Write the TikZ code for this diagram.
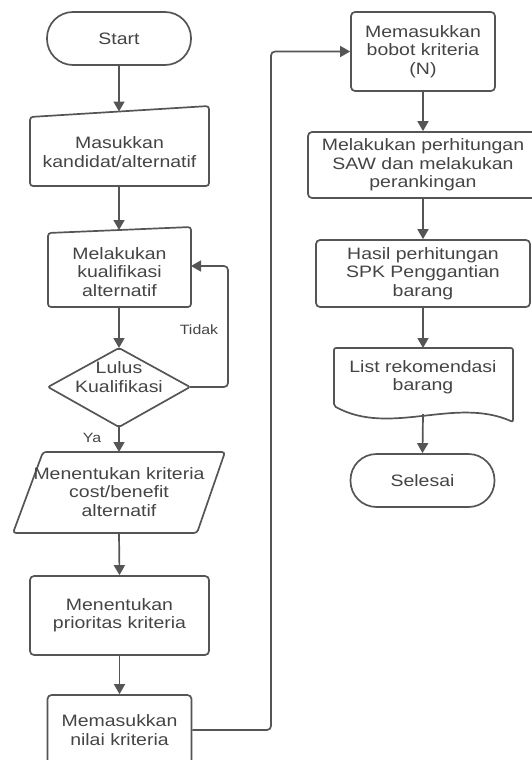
\documentclass[tikz,border=0pt]{standalone}
\usepackage{fontspec}
\setmainfont{Liberation Sans}[FakeStretch=1.18]
\usetikzlibrary{arrows.meta}
\definecolor{ln}{HTML}{555555}
\definecolor{tx}{HTML}{444444}
\begin{document}
\begin{tikzpicture}[x=1pt,y=-1pt,
  lbl/.style={align=center,text=tx,font=\fontsize{16.5}{18.3}\selectfont,inner sep=0pt},
  sml/.style={text=tx,font=\fontsize{13.5}{15}\selectfont,inner sep=0pt},
  shp/.style={draw=ln,line width=1.7pt,rounded corners=3pt},
  boxn/.style={lbl,draw=ln,line width=1.7pt,rounded corners=4pt},
  term/.style={lbl,draw=ln,line width=1.7pt,rounded corners=26pt,minimum width=144pt,minimum height=53pt},
  arr/.style={draw=ln,line width=1.7pt,-{Triangle[length=10pt,width=11pt,fill=ln]}},
  elbow/.style={arr,rounded corners=4pt}]
\useasboundingbox (0,0) rectangle (531,760);

% ---------- left column ----------
\node[term] (start) at (119,38.5) {Start};

\draw[shp] (30,117) -- (209,106) -- (209,186) -- (30,186) -- cycle;
\node[lbl] (inp) at (119.5,152) {Masukkan\\kandidat/alternatif};
\coordinate (inpT) at (119,111.5);
\coordinate (inpB) at (119,186);

\draw[shp] (48,233) -- (191,227) -- (191,307) -- (48,307) -- cycle;
\node[lbl] (kual) at (119.5,272) {Melakukan\\kualifikasi\\alternatif};
\coordinate (kualT) at (119,230);
\coordinate (kualB) at (119,307);
\coordinate (kualR) at (191,266);

\draw[shp,rounded corners=2pt] (119,348) -- (190,387) -- (119,427) -- (48,387) -- cycle;
\node[lbl] (lulus) at (119,377) {Lulus\\Kualifikasi};
\coordinate (dT) at (119,348);
\coordinate (dR) at (190,387);
\coordinate (dB) at (119,427);
\coordinate (loopA) at (228,387);
\coordinate (loopB) at (228,266);

\node[sml] (tidak) at (199,330) {Tidak};
\node[sml] (ya) at (92,438) {Ya};

\draw[shp] (43,452) -- (225,452) -- (197,533) -- (13,533) -- cycle;
\node[lbl] (krit) at (119,492) {Menentukan kriteria\\cost/benefit\\alternatif};
\coordinate (parT) at (119,452);
\coordinate (parB) at (119,533);

\node[boxn,minimum width=179pt,minimum height=79pt] (prio) at (119.5,615.5) {Menentukan\\prioritas kriteria};
\node[boxn,minimum width=144pt,minimum height=70pt] (nilai) at (119.5,730) {Memasukkan\\nilai kriteria};

% ---------- right column ----------
\node[boxn,minimum width=144pt,minimum height=79pt] (bobot) at (423,51.5) {Memasukkan\\bobot kriteria\\(N)};
\node[boxn,minimum width=230pt,minimum height=66pt] (saw) at (423,165) {Melakukan perhitungan\\SAW dan melakukan\\perankingan};
\node[boxn,minimum width=214pt,minimum height=67pt] (hasil) at (423,273.5) {Hasil perhitungan\\SPK Penggantian\\barang};

\draw[shp,rounded corners=2pt] (334,348) -- (513,348) -- (513,422)
   .. controls (455,396) and (390,437) .. (334,406) -- cycle;
\node[lbl] (list) at (423,377.5) {List rekomendasi\\barang};
\coordinate (docT) at (423,348);
\coordinate (docB) at (423,414);

\node[term] (selesai) at (422.5,480.5) {Selesai};

\coordinate (jA) at (271,730);
\coordinate (jB) at (271,51.5);

% ---------- connectors ----------
\draw[arr] (start.south) -- (inpT);
\draw[arr] (inpB) -- (kualT);
\draw[arr] (kualB) -- (dT);
\draw[elbow] (dR) -- (loopA) -- (loopB) -- (kualR);
\draw[arr] (dB) -- (parT);
\draw[arr] (parB) -- (prio.north);
\draw[arr] (prio.south) -- (nilai.north);
\draw[elbow] (nilai.east) -- (jA) -- (jB) -- (bobot.west);
\draw[arr] (bobot.south) -- (saw.north);
\draw[arr] (saw.south) -- (hasil.north);
\draw[arr] (hasil.south) -- (docT);
\draw[arr] (docB) -- (selesai.north);
\end{tikzpicture}
\end{document}
